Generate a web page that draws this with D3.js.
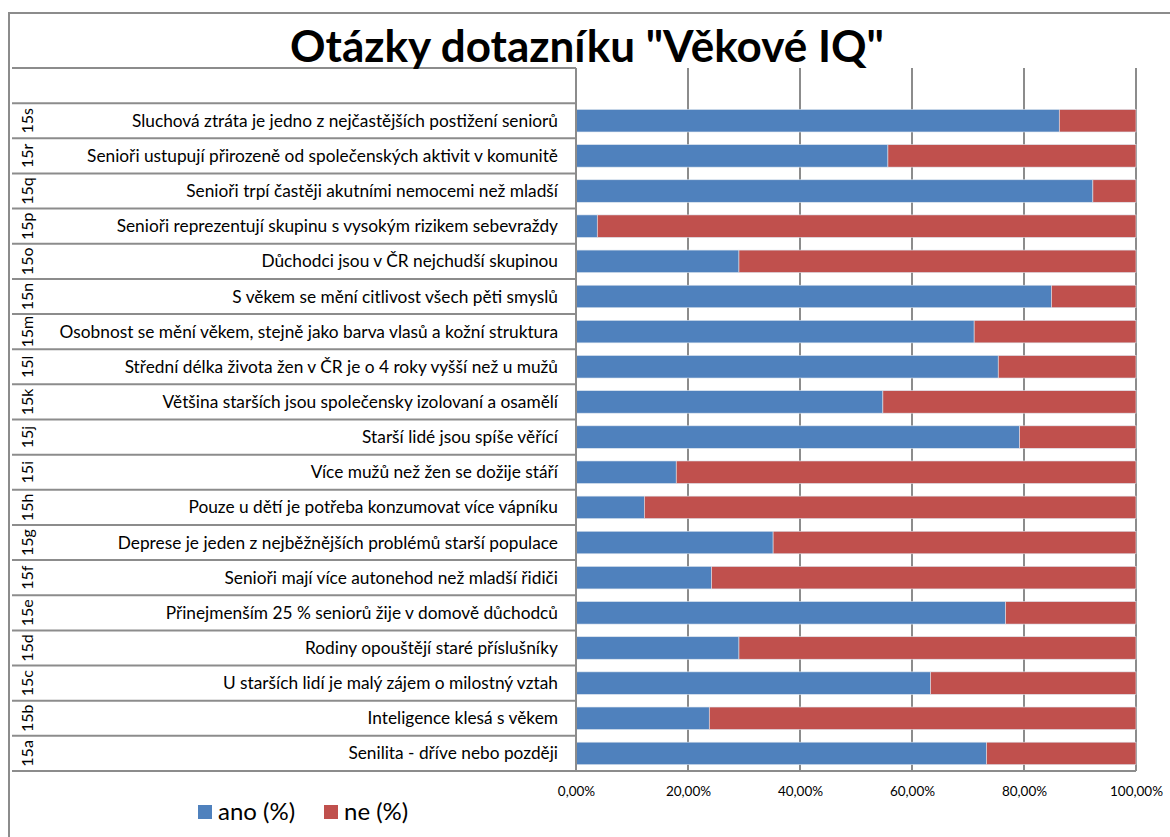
<!DOCTYPE html>
<html>
  <head>
    <meta charset="utf-8">
    <title>Otázky dotazníku</title>
    <style>
      body { margin: 0; background: #fff; }
      text { font-family: Lato, "Open Sans", sans-serif; fill: #000; }
    </style>
  </head>
  <body>
    <script src="https://cdn.jsdelivr.net/npm/d3@7"></script>
    <script>
      // data, bottom row first (15a) up to 15s
      var codes = ['15a', '15b', '15c', '15d', '15e', '15f', '15g', '15h', '15i', '15j',
                   '15k', '15l', '15m', '15n', '15o', '15p', '15q', '15r', '15s'];
      var questions = [
        'Senilita - dříve nebo později',
        'Inteligence klesá s věkem',
        'U starších lidí je malý zájem o milostný vztah',
        'Rodiny opouštějí staré příslušníky',
        'Přinejmenším 25 % seniorů žije v domově důchodců',
        'Senioři mají více autonehod než mladší řidiči',
        'Deprese je jeden z nejběžnějších problémů starší populace',
        'Pouze u dětí je potřeba konzumovat více vápníku',
        'Více mužů než žen se dožije stáří',
        'Starší lidé jsou spíše věřící',
        'Většina starších jsou společensky izolovaní a osamělí',
        'Střední délka života žen v ČR je o 4 roky vyšší než u mužů',
        'Osobnost se mění věkem, stejně jako barva vlasů a kožní struktura',
        'S věkem se mění citlivost všech pěti smyslů',
        'Důchodci jsou v ČR nejchudší skupinou',
        'Senioři reprezentují skupinu s vysokým rizikem sebevraždy',
        'Senioři trpí častěji akutními nemocemi než mladší',
        'Senioři ustupují přirozeně od společenských aktivit v komunitě',
        'Sluchová ztráta je jedno z nejčastějších postižení seniorů'
      ];
      var ano = [73.3, 23.8, 63.3, 29.1, 76.7, 24.2, 35.2, 12.2, 17.9, 79.2,
                 54.8, 75.4, 71.1, 84.9, 29.1, 3.8, 92.3, 55.7, 86.3];
      var ne = [26.7, 76.2, 36.7, 70.9, 23.3, 75.8, 64.8, 87.8, 82.1, 20.8,
                45.2, 24.6, 28.9, 15.1, 70.9, 96.2, 7.7, 44.3, 13.7];
      var seriesNames = ['ano (%)', 'ne (%)'];
      var xTicks = [0, 0.2, 0.4, 0.6, 0.8, 1];

      var width = 1170,
        height = 837,
        colors = ['#4f81bd', '#c0504d'],
        gridColor = '#8c8c8c',
        tableLeft = 12,
        plot = { left: 576, right: 1136, top: 68, bottom: 771 }; // plot area

      var svg = d3.select('body')
        .append('svg')
        .attr('width', width)
        .attr('height', height);

      // chart border (runs off the right and bottom edges)
      svg.append('rect')
        .attr('x', 9)
        .attr('y', 13)
        .attr('width', width + 10)
        .attr('height', height + 10)
        .attr('fill', '#fff')
        .attr('stroke', gridColor)
        .attr('stroke-width', 2);

      var rows = codes.map(function(c, i) {
        return { code: c, question: questions[i], ano: ano[i] / 100, ne: ne[i] / 100 };
      });

      var y = d3.scaleBand()
        .domain(codes.slice().reverse())
        .range([plot.top + (plot.bottom - plot.top) / 20, plot.bottom])
        .paddingInner(0.36)
        .paddingOuter(0.18);

      var x = d3.scaleLinear()
        .domain([0, 1])
        .range([plot.left, plot.right]);

      // vertical gridlines
      svg.append('g')
        .selectAll('line')
        .data(xTicks.slice(1))
        .enter()
        .append('line')
        .attr('x1', function(d) { return x(d); })
        .attr('x2', function(d) { return x(d); })
        .attr('y1', plot.top)
        .attr('y2', plot.bottom)
        .attr('stroke', gridColor)
        .attr('stroke-width', 2);

      // stacked bars
      var stack = d3.stack().keys(['ano', 'ne']);
      var layers = stack(rows);

      svg.append('g')
        .selectAll('g')
        .data(layers)
        .enter()
        .append('g')
        .attr('fill', function(d, i) { return colors[i]; })
        .selectAll('rect')
        .data(function(d) { return d; })
        .enter()
        .append('rect')
        .attr('x', function(d) { return x(d[0]); })
        .attr('y', function(d) { return y(d.data.code); })
        .attr('width', function(d) { return x(d[1]) - x(d[0]); })
        .attr('height', y.bandwidth())
        .attr('stroke', '#dde5ee')
        .attr('stroke-width', 0.6);

      // category table on the left
      var step = y.step();
      var rowLines = [plot.top].concat(codes.slice().reverse().map(function(c) {
        return y(c) - y.paddingOuter() * step;
      }));
      rowLines.push(plot.bottom);

      svg.append('g')
        .selectAll('line')
        .data(rowLines)
        .enter()
        .append('line')
        .attr('x1', tableLeft)
        .attr('x2', function(d, i) { return i === rowLines.length - 1 ? plot.right : plot.left; })
        .attr('y1', function(d) { return d; })
        .attr('y2', function(d) { return d; })
        .attr('stroke', gridColor)
        .attr('stroke-width', 2);

      svg.append('line')
        .attr('x1', plot.left)
        .attr('x2', plot.left)
        .attr('y1', plot.top)
        .attr('y2', plot.bottom)
        .attr('stroke', gridColor)
        .attr('stroke-width', 2);

      var labels = svg.append('g');

      labels.selectAll('.question')
        .data(rows)
        .enter()
        .append('text')
        .attr('class', 'question')
        .attr('x', plot.left - 18)
        .attr('y', function(d) { return y(d.code) + y.bandwidth() / 2; })
        .attr('dy', '0.35em')
        .attr('text-anchor', 'end')
        .attr('font-size', '17.3px')
        .text(function(d) { return d.question; });

      labels.selectAll('.code')
        .data(rows)
        .enter()
        .append('text')
        .attr('class', 'code')
        .attr('transform', function(d) {
          return 'translate(27,' + (y(d.code) + y.bandwidth() / 2) + ') rotate(-90)';
        })
        .attr('dy', '0.35em')
        .attr('text-anchor', 'middle')
        .attr('font-size', '16px')
        .text(function(d) { return d.code; });

      // x axis labels
      var locale = d3.formatLocale({ decimal: ',', thousands: ' ', grouping: [3], currency: ['', ' Kč'] });
      var xAxis = d3.axisBottom(x)
        .tickValues(xTicks)
        .tickSize(0)
        .tickPadding(0)
        .tickFormat(locale.format('.2%'));

      var gx = svg.append('g')
        .attr('transform', 'translate(0,' + (plot.bottom + 15) + ')')
        .call(xAxis);
      gx.select('.domain').remove();
      gx.selectAll('text')
        .attr('font-size', '13.5px')
        .attr('font-family', 'Lato, sans-serif')
        .attr('fill', '#000');

      // title
      svg.append('text')
        .attr('x', 587)
        .attr('y', 62)
        .attr('text-anchor', 'middle')
        .attr('font-size', '44px')
        .attr('font-weight', 'bold')
        .text('Otázky dotazníku "Věkové IQ"');

      // legend
      var legend = svg.append('g')
        .selectAll('g')
        .data(seriesNames)
        .enter()
        .append('g')
        .attr('transform', function(d, i) { return 'translate(' + (198 + i * 126) + ',805)'; });

      legend.append('rect')
        .attr('width', 14)
        .attr('height', 14)
        .attr('fill', function(d, i) { return colors[i]; });

      legend.append('text')
        .attr('x', 20)
        .attr('y', 15)
        .attr('font-size', '24px')
        .text(function(d) { return d; });
    </script>
  </body>
</html>
